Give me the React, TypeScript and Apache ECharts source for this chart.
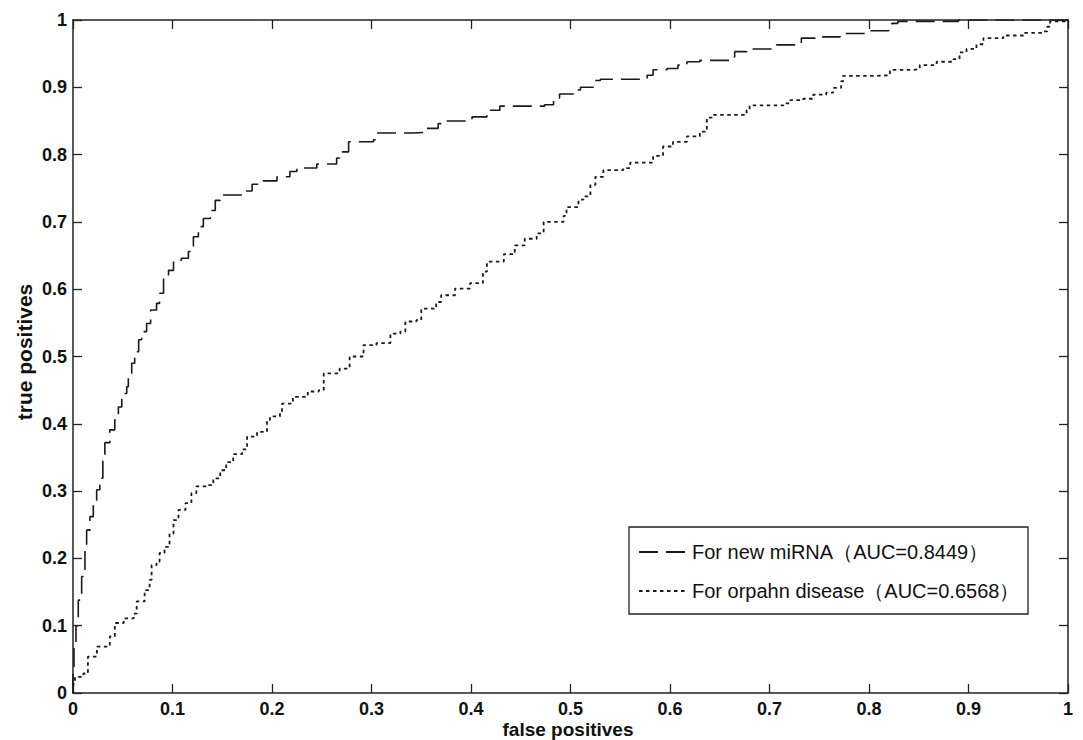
import React, { useEffect, useRef } from "react";
import * as echarts from "echarts";

const tickValues = [0, 0.1, 0.2, 0.3, 0.4, 0.5, 0.6, 0.7, 0.8, 0.9, 1];
const tickLabels = ["0", "0.1", "0.2", "0.3", "0.4", "0.5", "0.6", "0.7", "0.8", "0.9", "1"];
const seriesNames = ["For new miRNA（AUC=0.8449）", "For orpahn disease（AUC=0.6568）"];
const xTitle = "false positives";
const yTitle = "true positives";

const miRnaFpr = [0, 0, 0.001, 0.003, 0.0053, 0.0087, 0.012, 0.0137, 0.017, 0.0204, 0.0238, 0.027, 0.03, 0.032, 0.037, 0.042, 0.0456, 0.049, 0.054, 0.0556, 0.059, 0.062, 0.066, 0.069, 0.074, 0.078, 0.084, 0.087, 0.091, 0.096, 0.101, 0.109, 0.116, 0.121, 0.126, 0.131, 0.138, 0.143, 0.148, 0.165, 0.171, 0.18, 0.191, 0.205, 0.218, 0.225, 0.245, 0.265, 0.268, 0.277, 0.302, 0.304, 0.342, 0.355, 0.367, 0.376, 0.401, 0.416, 0.429, 0.474, 0.483, 0.489, 0.503, 0.51, 0.523, 0.53, 0.566, 0.577, 0.583, 0.597, 0.608, 0.617, 0.63, 0.66, 0.665, 0.677, 0.704, 0.707, 0.727, 0.732, 0.751, 0.771, 0.798, 0.799, 0.819, 0.823, 0.829, 0.888, 0.89, 1];
const miRnaTpr = [0, 0.03, 0.069, 0.1, 0.138, 0.173, 0.212, 0.242, 0.262, 0.282, 0.302, 0.319, 0.345, 0.372, 0.391, 0.406, 0.425, 0.445, 0.455, 0.475, 0.49, 0.507, 0.525, 0.537, 0.549, 0.569, 0.579, 0.594, 0.616, 0.628, 0.643, 0.646, 0.656, 0.678, 0.693, 0.705, 0.717, 0.732, 0.74, 0.74, 0.746, 0.756, 0.761, 0.767, 0.775, 0.78, 0.786, 0.795, 0.804, 0.819, 0.822, 0.832, 0.833, 0.839, 0.846, 0.85, 0.856, 0.866, 0.872, 0.874, 0.884, 0.89, 0.896, 0.9, 0.91, 0.912, 0.912, 0.918, 0.926, 0.928, 0.933, 0.938, 0.94, 0.945, 0.953, 0.957, 0.958, 0.963, 0.963, 0.973, 0.975, 0.98, 0.981, 0.984, 0.985, 0.995, 0.998, 0.998, 1, 1];

const orphanFpr = [0, 0.0003, 0.002, 0.0104, 0.015, 0.024, 0.037, 0.042, 0.051, 0.061, 0.064, 0.072, 0.077, 0.079, 0.084, 0.087, 0.092, 0.097, 0.101, 0.106, 0.113, 0.119, 0.124, 0.134, 0.141, 0.148, 0.154, 0.161, 0.17, 0.175, 0.185, 0.195, 0.198, 0.208, 0.21, 0.221, 0.236, 0.247, 0.252, 0.268, 0.278, 0.292, 0.305, 0.319, 0.329, 0.334, 0.345, 0.35, 0.365, 0.37, 0.384, 0.399, 0.412, 0.416, 0.433, 0.444, 0.454, 0.466, 0.473, 0.493, 0.496, 0.508, 0.513, 0.52, 0.525, 0.533, 0.553, 0.56, 0.583, 0.593, 0.603, 0.617, 0.63, 0.637, 0.644, 0.664, 0.677, 0.68, 0.714, 0.721, 0.734, 0.744, 0.757, 0.764, 0.772, 0.774, 0.808, 0.821, 0.845, 0.851, 0.868, 0.885, 0.891, 0.898, 0.908, 0.915, 0.935, 0.955, 0.974, 0.979, 0.982, 1];
const orphanTpr = [0, 0.014, 0.024, 0.029, 0.054, 0.069, 0.084, 0.104, 0.111, 0.118, 0.136, 0.153, 0.168, 0.19, 0.195, 0.208, 0.217, 0.237, 0.257, 0.272, 0.282, 0.297, 0.307, 0.309, 0.319, 0.331, 0.343, 0.355, 0.362, 0.381, 0.388, 0.406, 0.411, 0.418, 0.43, 0.44, 0.448, 0.45, 0.475, 0.482, 0.5, 0.517, 0.52, 0.534, 0.537, 0.552, 0.554, 0.571, 0.581, 0.591, 0.601, 0.609, 0.626, 0.641, 0.652, 0.665, 0.675, 0.683, 0.7, 0.709, 0.722, 0.733, 0.738, 0.755, 0.767, 0.777, 0.78, 0.788, 0.798, 0.812, 0.819, 0.827, 0.834, 0.855, 0.859, 0.859, 0.866, 0.873, 0.876, 0.881, 0.883, 0.889, 0.892, 0.899, 0.909, 0.917, 0.918, 0.926, 0.927, 0.933, 0.938, 0.942, 0.952, 0.957, 0.964, 0.973, 0.977, 0.981, 0.983, 0.99, 0.998, 1];

const FONT = "'Liberation Sans', Arial, Helvetica, sans-serif";

function pairs(xs: number[], ys: number[]) {
  return xs.map((x, i) => [x, ys[i]]);
}

function labelFor(v: number) {
  const i = tickValues.findIndex((t) => Math.abs(t - v) < 1e-6);
  return i >= 0 ? tickLabels[i] : "";
}

export default function App() {
  const ref = useRef<HTMLDivElement>(null);
  useEffect(() => {
    document.body.style.margin = "0";
    if (!ref.current) return;
    const chart = echarts.init(ref.current, undefined, { renderer: "svg" });
    const axisLine = { show: true, onZero: false, lineStyle: { color: "#222", width: 1.5 } };
    const tick = { show: true, inside: true, length: 9, lineStyle: { color: "#222", width: 1.3 } };
    const label = { show: true, fontSize: 18, fontWeight: "bold" as const, fontFamily: FONT, color: "#111", formatter: (v: number) => labelFor(v) };
    const base = { type: "value" as const, min: 0, max: 1, interval: 0.1, splitLine: { show: false }, axisLine, axisTick: tick };
    chart.setOption({
      animation: false,
      backgroundColor: "#fff",
      grid: { left: 73, top: 20, width: 995, height: 673, containLabel: false },
      xAxis: [
        { ...base, position: "bottom", axisLabel: { ...label, margin: 7 } },
        { ...base, position: "top", axisLabel: { show: false } },
      ],
      yAxis: [
        { ...base, position: "left", axisLabel: { ...label, margin: 6 } },
        { ...base, position: "right", axisLabel: { show: false } },
      ],
      legend: {
        orient: "vertical",
        left: 638,
        top: 542,
        padding: 0,
        itemWidth: 48,
        itemHeight: 20,
        itemGap: 19,
        itemStyle: { opacity: 0 },
        textStyle: { fontSize: 20, fontFamily: FONT, color: "#111", lineHeight: 20 },
        data: seriesNames,
      },
      series: [
        {
          name: seriesNames[0],
          type: "line",
          step: "end",
          symbol: "none",
          showSymbol: false,
          data: pairs(miRnaFpr, miRnaTpr),
          lineStyle: { color: "#1a1a1a", width: 1.6, type: [19, 8] },
          itemStyle: { color: "#1a1a1a" },
        },
        {
          name: seriesNames[1],
          type: "line",
          step: "end",
          symbol: "none",
          showSymbol: false,
          data: pairs(orphanFpr, orphanTpr),
          lineStyle: { color: "#1a1a1a", width: 1.8, type: [3.5, 3.5] },
          itemStyle: { color: "#1a1a1a" },
        },
      ],
      graphic: [
        {
          type: "rect",
          shape: { x: 629, y: 527, width: 399, height: 87 },
          style: { fill: "transparent", stroke: "#222", lineWidth: 1.3 },
          silent: true,
        },
        {
          type: "text",
          x: 568,
          y: 729,
          style: { text: xTitle, font: `bold 19px ${FONT}`, fill: "#111", align: "center", verticalAlign: "middle" },
        },
        {
          type: "text",
          x: 24,
          y: 352,
          rotation: Math.PI / 2,
          style: { text: yTitle, font: `bold 21px ${FONT}`, fill: "#111", align: "center", verticalAlign: "middle" },
        },
      ],
    });
    return () => chart.dispose();
  }, []);
  return <div ref={ref} style={{ width: 1083, height: 740 }} />;
}
